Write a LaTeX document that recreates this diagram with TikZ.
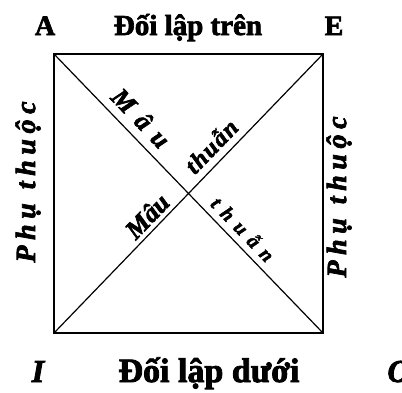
\documentclass[tikz,border=0pt]{standalone}
\usepackage{fontspec}
\setmainfont{Liberation Serif}
\newfontfamily\hvfont[FakeBold=2.5]{Liberation Serif}
\newfontfamily\lsfont[LetterSpace=20,FakeBold=2.5]{Liberation Serif}
\newfontfamily\lsbigfont[LetterSpace=40,FakeBold=2.5]{Liberation Serif}
\newfontfamily\lssmallfont[LetterSpace=6,FakeBold=2.5]{Liberation Serif}
\tikzset{
  corner/.style={font=\hvfont\bfseries\fontsize{28}{28}\selectfont, anchor=base, inner sep=0pt},
  cornerit/.style={font=\hvfont\bfseries\itshape\fontsize{32}{32}\selectfont, anchor=base, inner sep=0pt},
  title/.style={font=\hvfont\bfseries\fontsize{#1}{#1}\selectfont, anchor=base, inner sep=0pt},
  side/.style={font=\lsfont\bfseries\itshape\fontsize{28}{28}\selectfont, rotate=90, inner sep=0pt},
  diag/.style={font=\hvfont\bfseries\itshape\fontsize{#1}{#1}\selectfont, inner sep=0pt},
  frame/.style={line width=1.4pt},
  cross/.style={line width=1.2pt}
}
\begin{document}
\begin{tikzpicture}[x=1pt,y=-1pt]
\useasboundingbox (0,0) rectangle (402,392);
\clip (0,0) rectangle (402,392);
\coordinate (A) at (54,54);
\coordinate (E) at (323,54);
\coordinate (I) at (54,333);
\coordinate (O) at (323,333);
\draw[frame] (A) -- (E) -- (O) -- (I) -- cycle;
\draw[cross] (A) -- (O);
\draw[cross] (I) -- (E);
% corner letters and titles
\node[corner] (lA) at (45,35) {A};
\node[title=29] (top) at (188,35) {Đối lập trên};
\node[corner] (lE) at (334,35) {E};
\node[cornerit] (lI) at (38,382) {I};
\node[title=34] (bot) at (209,382) {Đối lập dưới};
\node[cornerit] (lO) at (399,382) {O};
% sides
\node[side] (left) at (28,182) {Phụ\hspace{14pt}thuộc};
\node[side] (right) at (339,197) {Phụ\hspace{14pt}thuộc};
% diagonals
\node[diag=26, font=\lsbigfont\bfseries\itshape\fontsize{26}{26}\selectfont, rotate=-46] (m1) at (141,118) {Mâu};
\node[diag=24, font=\lssmallfont\bfseries\itshape\fontsize{24}{24}\selectfont, rotate=46] (t1) at (211,146) {thuẫn};
\node[diag=26, rotate=46] (m2) at (147,216) {Mâu};
\node[diag=20, font=\lsbigfont\bfseries\itshape\fontsize{20}{20}\selectfont, rotate=-46] (t2) at (243,229) {thuẫn};
\end{tikzpicture}
\end{document}
